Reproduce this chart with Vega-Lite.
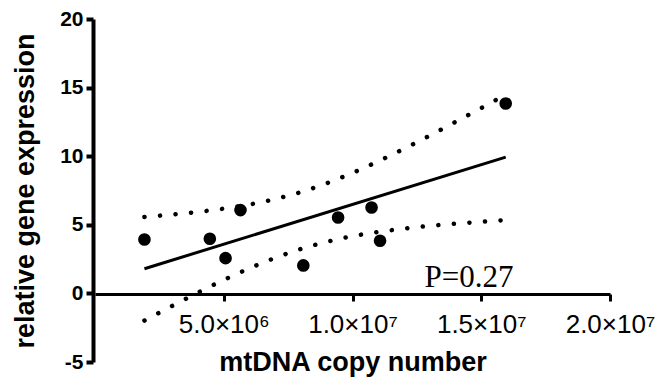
{
  "$schema": "https://vega.github.io/schema/vega-lite/v6.json",
  "width": 515,
  "height": 343,
  "autosize": {"type": "none"},
  "padding": {"left": 95, "top": 19, "right": 51, "bottom": 17},
  "background": "white",
  "config": {
    "view": {"stroke": null},
    "font": "Liberation Sans"
  },
  "datasets": {
    "points": [
      {"x": 1920000, "y": 3.93},
      {"x": 4460000, "y": 3.98},
      {"x": 5070000, "y": 2.57},
      {"x": 5650000, "y": 6.07},
      {"x": 8090000, "y": 2.04},
      {"x": 9440000, "y": 5.53},
      {"x": 10740000, "y": 6.26},
      {"x": 11070000, "y": 3.84},
      {"x": 15950000, "y": 13.84}
    ],
    "fit": [
      {"x": 1920000, "y": 1.8},
      {"x": 15950000, "y": 9.93}
    ],
    "bands": [
      {"x": 1920000, "y": 5.57, "band": "upper"},
      {"x": 3000000, "y": 5.75, "band": "upper"},
      {"x": 4000000, "y": 5.94, "band": "upper"},
      {"x": 5000000, "y": 6.18, "band": "upper"},
      {"x": 6000000, "y": 6.48, "band": "upper"},
      {"x": 7000000, "y": 6.88, "band": "upper"},
      {"x": 8000000, "y": 7.39, "band": "upper"},
      {"x": 9000000, "y": 8.03, "band": "upper"},
      {"x": 10000000, "y": 8.78, "band": "upper"},
      {"x": 11000000, "y": 9.63, "band": "upper"},
      {"x": 12000000, "y": 10.54, "band": "upper"},
      {"x": 13000000, "y": 11.5, "band": "upper"},
      {"x": 14000000, "y": 12.5, "band": "upper"},
      {"x": 15000000, "y": 13.51, "band": "upper"},
      {"x": 15950000, "y": 14.49, "band": "upper"},
      {"x": 1920000, "y": -1.98, "band": "lower"},
      {"x": 3000000, "y": -0.91, "band": "lower"},
      {"x": 4000000, "y": 0.06, "band": "lower"},
      {"x": 5000000, "y": 0.98, "band": "lower"},
      {"x": 6000000, "y": 1.83, "band": "lower"},
      {"x": 7000000, "y": 2.59, "band": "lower"},
      {"x": 8000000, "y": 3.24, "band": "lower"},
      {"x": 9000000, "y": 3.76, "band": "lower"},
      {"x": 10000000, "y": 4.17, "band": "lower"},
      {"x": 11000000, "y": 4.48, "band": "lower"},
      {"x": 12000000, "y": 4.72, "band": "lower"},
      {"x": 13000000, "y": 4.92, "band": "lower"},
      {"x": 14000000, "y": 5.08, "band": "lower"},
      {"x": 15000000, "y": 5.22, "band": "lower"},
      {"x": 15950000, "y": 5.34, "band": "lower"}
    ],
    "note": [
      {"x": 14520000, "y": 0.5, "label": "P=0.27"}
    ]
  },
  "encoding": {
    "x": {
      "field": "x",
      "type": "quantitative",
      "scale": {"domain": [0, 20000000], "nice": false, "zero": false},
      "axis": {
        "title": "mtDNA copy number",
        "titleFontSize": 27,
        "titleFontWeight": "bold",
        "titleColor": "black",
        "titlePadding": 12,
        "values": [5000000, 10000000, 15000000, 20000000],
        "labelExpr": "datum.value == 5000000 ? '5.0×10⁶' : datum.value == 10000000 ? '1.0×10⁷' : datum.value == 15000000 ? '1.5×10⁷' : datum.value == 20000000 ? '2.0×10⁷' : ''",
        "labelFontSize": 26,
        "labelColor": "black",
        "labelPadding": 10,
        "labelOverlap": false,
        "labelFlush": false,
        "offset": -68,
        "grid": false,
        "domainColor": "black",
        "domainWidth": 3,
        "tickColor": "black",
        "tickWidth": 3,
        "tickSize": 7
      }
    },
    "y": {
      "field": "y",
      "type": "quantitative",
      "scale": {"domain": [-5, 20], "nice": false, "zero": false},
      "axis": {
        "title": "relative gene expression",
        "titleFontSize": 27,
        "titleFontWeight": "bold",
        "titleColor": "black",
        "titlePadding": 20,
        "values": [-5, 0, 5, 10, 15, 20],
        "labelExpr": "'' + datum.value",
        "labelFontSize": 21,
        "labelFontWeight": "bold",
        "labelColor": "black",
        "labelPadding": 3,
        "labelOverlap": false,
        "labelFlush": false,
        "offset": 2,
        "grid": false,
        "domainColor": "black",
        "domainWidth": 4,
        "tickColor": "black",
        "tickWidth": 4,
        "tickSize": 7
      }
    }
  },
  "layer": [
    {
      "data": {"name": "bands"},
      "mark": {"type": "line", "color": "black", "strokeWidth": 4.5, "strokeDash": [0.1, 15.5], "strokeCap": "round", "interpolate": "monotone"},
      "encoding": {"detail": {"field": "band", "type": "nominal"}}
    },
    {
      "data": {"name": "fit"},
      "mark": {"type": "line", "color": "black", "strokeWidth": 3},
      "encoding": {}
    },
    {
      "data": {"name": "points"},
      "mark": {"type": "circle", "color": "black", "opacity": 1, "size": 160},
      "encoding": {}
    },
    {
      "data": {"name": "note"},
      "mark": {"type": "text", "font": "Liberation Serif", "fontSize": 31, "align": "center", "baseline": "alphabetic", "color": "black"},
      "encoding": {"text": {"field": "label", "type": "nominal"}}
    }
  ]
}
